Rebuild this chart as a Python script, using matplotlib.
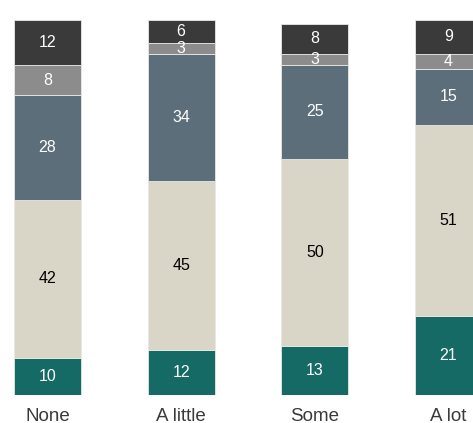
import matplotlib
matplotlib.use("Agg")
import matplotlib.pyplot as plt
from matplotlib import font_manager

categories = ["None", "A little", "Some", "A lot"]
segments = ["bottom", "low", "mid", "thin", "top"]
values = {
    "bottom": [10, 12, 13, 21],
    "low": [42, 45, 50, 51],
    "mid": [28, 34, 25, 15],
    "thin": [8, 3, 3, 4],
    "top": [12, 6, 8, 9],
}
colors = {
    "bottom": "#156a66",
    "low": "#d9d6c8",
    "mid": "#5b6e79",
    "thin": "#8c8c8c",
    "top": "#3a3a3a",
}
text_colors = {"bottom": "white", "low": "black", "mid": "white",
               "thin": "white", "top": "white"}

names = {f.name for f in font_manager.fontManager.ttflist}
tick_font = "Liberation Sans Narrow" if "Liberation Sans Narrow" in names else "Liberation Sans"

fig = plt.figure(figsize=(4.73, 4.23), dpi=100)
ax = fig.add_axes([0, 1 - 395 / 423, 1, 375 / 423])

x = range(len(categories))
base = [0] * len(categories)
for seg in segments:
    vals = values[seg]
    ax.bar(x, vals, bottom=base, width=0.5, color=colors[seg],
           edgecolor="#e8e8e4", linewidth=0.6)
    for i, v in enumerate(vals):
        ax.text(i, base[i] + v / 2, str(v), ha="center", va="center",
                fontsize=11.5, color=text_colors[seg], family="Liberation Sans")
    base = [b + v for b, v in zip(base, vals)]

ax.set_xlim(-47.5 / 134, 3 + 24.5 / 134)
ax.set_ylim(0, 100)
ax.set_xticks(list(x))
ax.set_xticklabels(categories, family=tick_font, fontsize=13.5, color="#3a3a3a")
ax.tick_params(axis="x", length=0, pad=9)
ax.set_yticks([])
for s in ax.spines.values():
    s.set_visible(False)

fig.savefig("out.png", dpi=100)
